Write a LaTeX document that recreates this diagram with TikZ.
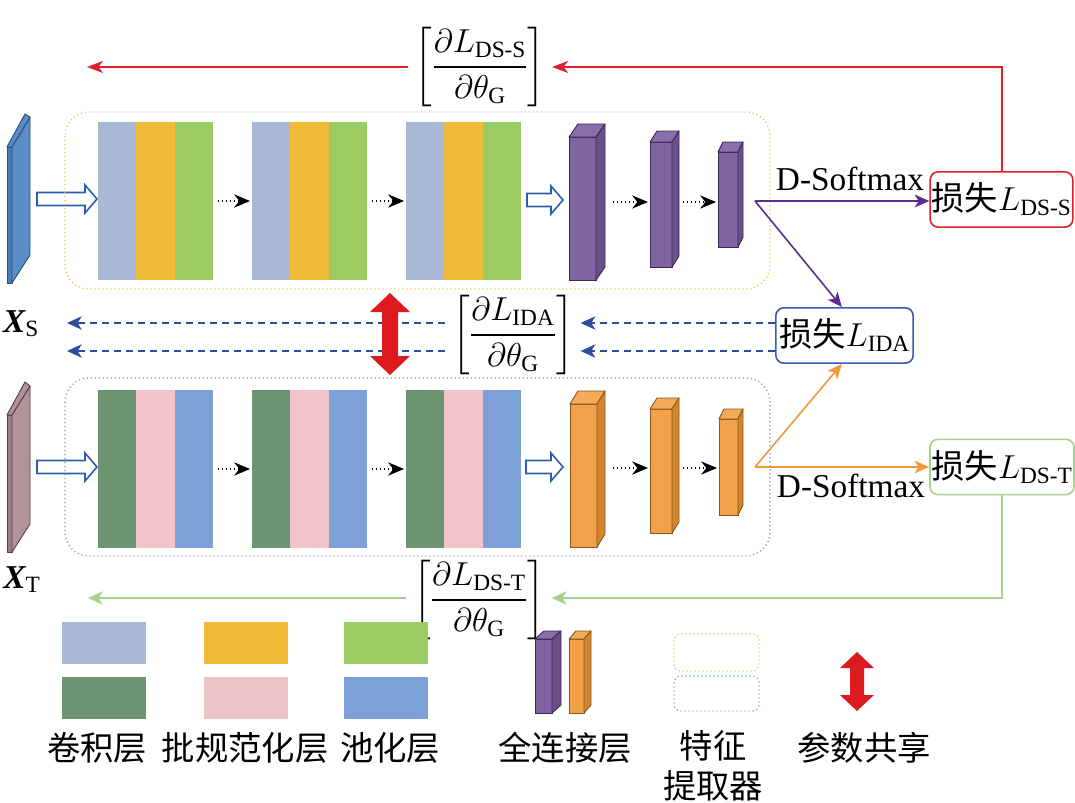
\documentclass[tikz,border=0pt]{standalone}
\usepackage{amsmath}
\usepackage{fontspec}
\setmainfont{Liberation Serif}
\newfontfamily\cjk{Noto Sans CJK SC}
\usetikzlibrary{arrows.meta}

\definecolor{redc}{HTML}{E0202A}
\definecolor{purc}{HTML}{5C2D91}
\definecolor{orac}{HTML}{EE9A3C}
\definecolor{dblue}{HTML}{2F4D9E}
\definecolor{grnc}{HTML}{A6D28A}
\definecolor{boxblue}{HTML}{3D5BA9}
\definecolor{dotora}{HTML}{F3B847}
\definecolor{dotblu}{HTML}{6C9BD2}
\definecolor{hollowc}{HTML}{2F5DAE}
\definecolor{cLB}{HTML}{A7B9D5}
\definecolor{cYE}{HTML}{F1BA39}
\definecolor{cGR}{HTML}{9BCB62}
\definecolor{cDG}{HTML}{6A9570}
\definecolor{cPK}{HTML}{F1C3CB}
\definecolor{cPKL}{HTML}{EBC4C6}
\definecolor{cBL}{HTML}{7DA0D6}
\definecolor{pu}{HTML}{8064A2}
\definecolor{putop}{HTML}{8A6FAB}
\definecolor{puside}{HTML}{6B5088}
\definecolor{puline}{HTML}{3B2A55}
\definecolor{or}{HTML}{F2A04A}
\definecolor{ortop}{HTML}{F4AA58}
\definecolor{orside}{HTML}{D4862F}
\definecolor{orline}{HTML}{8A5A1D}
\definecolor{slS}{HTML}{5A8CC5}
\definecolor{slSd}{HTML}{4A7BB5}
\definecolor{slSl}{HTML}{2B4F7A}
\definecolor{slT}{HTML}{B3929A}
\definecolor{slTd}{HTML}{9C7B83}
\definecolor{slTl}{HTML}{5A4048}
\definecolor{shred}{HTML}{DD1A1F}

\newcommand\fccube[8]{%
  \filldraw[fill=#8, draw=#8line, line width=0.7pt] (#2,#3) rectangle (#4,#5);
  \filldraw[fill=#8top, draw=#8line, line width=0.7pt, line join=round] (#2,#3) -- (#2+#6,#3-#7) -- (#4+#6,#3-#7) -- (#4,#3) -- cycle;
  \filldraw[fill=#8side, draw=#8line, line width=0.7pt, line join=round] (#4,#3) -- (#4+#6,#3-#7) -- (#4+#6,#5-#7) -- (#4,#5) -- cycle;
  \coordinate (#1-w) at (#2,{(#3+#5)/2});
  \coordinate (#1-e) at (#4+#6,{(#3+#5)/2});
}
\newcommand\hollowarr[4]{%
  \draw[hollowc, line width=1.2pt, fill=white, line join=miter] (#2,#4-6.5) -- (#3-12,#4-6.5) -- (#3-12,#4-14) -- (#3,#4) -- (#3-12,#4+14) -- (#3-12,#4+6.5) -- (#2,#4+6.5) -- cycle;
  \coordinate (#1) at (#3,#4);
}
\newcommand\convblock[6]{%
  \node[stripe, fill=#4] (#1a) at (#2,#3) {};
  \node[stripe, fill=#5, anchor=west] (#1b) at (#1a.east) {};
  \node[stripe, fill=#6, anchor=west] (#1c) at (#1b.east) {};
}
\newcommand\pfrac[1]{$\displaystyle\left[\frac{\partial L_{\text{#1}}}{\partial\theta_{\text{G}}}\right]$}

\tikzset{
  stripe/.style={rectangle, inner sep=0pt, outer sep=0pt, minimum width=28.75pt, minimum height=118.5pt, draw=none},
  dotarr/.style={black, line width=1pt, dotted, -{Stealth[length=12pt,width=10pt,inset=4pt]}, shorten <=3.5pt, shorten >=1.5pt},
  lossbox/.style={rectangle, rounded corners=6pt, line width=1.2pt, inner sep=0pt, minimum height=41.5pt},
  fracnode/.style={inner sep=5pt},
  redarr/.style={redc, line width=1.5pt, -{Stealth[length=12pt,width=9pt,inset=3.5pt]}},
  purarr/.style={purc, line width=1.2pt, -{Stealth[length=11pt,width=9.5pt,inset=3pt]}},
  oraarr/.style={orac, line width=1.2pt, -{Stealth[length=11pt,width=9.5pt,inset=3pt]}},
  bluarr/.style={dblue, line width=1.2pt, dash pattern=on 5.5pt off 3.5pt, -{Stealth[length=11pt,width=10pt,inset=3pt]}},
  grnarr/.style={grnc, line width=1.2pt, -{Stealth[length=11pt,width=10pt,inset=3pt]}},
  legsq/.style={rectangle, inner sep=0pt, minimum width=63pt, minimum height=31.5pt, draw=none},
  cjkl/.style={font=\cjk\fontsize{25}{30}\selectfont, inner sep=0pt, align=center},
  dotbox/.style={line width=1pt, dash pattern=on 0.8pt off 2.2pt, rounded corners=18pt},
}

\begin{document}
\begin{tikzpicture}[x=0.75pt, y=-0.75pt, font=\fontsize{25}{30}\selectfont]
\useasboundingbox (0,0) rectangle (1075,803);
\fill[white] (0,0) rectangle (1075,803);

% ---------- input slabs ----------
\filldraw[fill=slSd, draw=slSl, line width=0.7pt, line join=round] (7,147) rectangle (12,283);
\filldraw[fill=slS, draw=slSl, line width=0.7pt, line join=round] (12,147) -- (30,117) -- (30,255) -- (12,283) -- cycle;
\filldraw[fill=slS, draw=slSl, line width=0.7pt, line join=round] (7,147) -- (25,114) -- (30,117) -- (12,147) -- cycle;
\filldraw[fill=slTd, draw=slTl, line width=0.7pt, line join=round] (7,415) rectangle (12,552);
\filldraw[fill=slT, draw=slTl, line width=0.7pt, line join=round] (12,415) -- (30,386) -- (30,524) -- (12,552) -- cycle;
\filldraw[fill=slT, draw=slTl, line width=0.7pt, line join=round] (7,415) -- (25,382) -- (30,386) -- (12,415) -- cycle;
\node[anchor=base, inner sep=0pt] (xs) at (21,332) {$\text{\bfseries\itshape X}_{\text{S}}$};
\node[anchor=base, inner sep=0pt] (xt) at (22,588) {$\text{\bfseries\itshape X}_{\text{T}}$};

% ---------- hollow arrows ----------
\hollowarr{hs1}{37}{97}{199}
\hollowarr{hs2}{527}{563}{200}
\hollowarr{ht1}{37}{97}{467}
\hollowarr{ht2}{526}{563}{467}

% ---------- conv blocks ----------
\convblock{s1}{117.2}{201}{cLB}{cYE}{cGR}
\convblock{s2}{271.2}{201}{cLB}{cYE}{cGR}
\convblock{s3}{425.2}{201}{cLB}{cYE}{cGR}
\convblock{t1}{117.2}{469}{cDG}{cPK}{cBL}
\convblock{t2}{271.2}{469}{cDG}{cPK}{cBL}
\convblock{t3}{425.2}{469}{cDG}{cPK}{cBL}
\draw[dotarr] (s1c.east) -- (s2a.west);
\draw[dotarr] (s2c.east) -- (s3a.west);
\draw[dotarr] (t1c.east) -- (t2a.west);
\draw[dotarr] (t2c.east) -- (t3a.west);

% ---------- FC cubes ----------
\fccube{sc1}{569}{137}{596}{280}{9}{13}{pu}
\fccube{sc2}{650}{142}{672}{267}{7}{11}{pu}
\fccube{sc3}{718}{152}{738}{247}{5}{10}{pu}
\fccube{tc1}{570}{404}{597}{547}{8}{13}{or}
\fccube{tc2}{650}{409}{672}{533}{7}{11}{or}
\fccube{tc3}{719}{419}{738}{515}{5}{10}{or}
\coordinate (rowS) at (0,202);
\coordinate (rowT) at (0,468);
\draw[dotarr, shorten <=6pt] (sc1-e |- rowS) -- (sc2-w |- rowS);
\draw[dotarr, shorten <=3pt] (sc2-e |- rowS) -- (sc3-w |- rowS);
\draw[dotarr, shorten <=6pt] (tc1-e |- rowT) -- (tc2-w |- rowT);
\draw[dotarr, shorten <=3pt] (tc2-e |- rowT) -- (tc3-w |- rowT);

% ---------- feature extractor boxes ----------
\draw[dotbox, dotora] (65,112) rectangle (770,289);
\draw[dotbox, dotblu] (65,378) rectangle (770,556);

% ---------- losses ----------
\node[lossbox, draw=redc, minimum width=107pt] (lossS) at (1001.5,199.5) {{\cjk 损失}$L_{\text{DS-S}}$};
\node[lossbox, draw=boxblue, minimum width=103pt] (lossI) at (844.5,335.5) {{\cjk 损失}$L_{\text{IDA}}$};
\node[lossbox, draw=grnc, minimum width=108pt] (lossT) at (1002,467) {{\cjk 损失}$L_{\text{DS-T}}$};

\coordinate (sOut) at (755,201);
\coordinate (tOut) at (755,467);
\node[anchor=base, inner sep=0pt] (dsS) at (850,190) {D-Softmax};
\node[anchor=base, inner sep=0pt] (dsT) at (851,497) {D-Softmax};
\draw[purarr] (sOut) -- (lossS.west |- sOut);
\draw[purarr] (sOut) -- ([xshift=-2pt]lossI.north);
\draw[oraarr] (tOut) -- (lossT.west |- tOut);
\draw[oraarr] (tOut) -- ([xshift=-2pt]lossI.south);

% ---------- gradient fractions ----------
\node[fracnode] (fS) at (480,67) {\pfrac{DS-S}};
\node[fracnode] (fI) at (513,335) {\pfrac{IDA}};
\node[fracnode] (fT) at (479,600) {\pfrac{DS-T}};

\coordinate (rEnd) at (87,67);
\draw[redarr] (lossS.north) |- (fS.east);
\draw[redarr] (fS.west) -- (rEnd);

\coordinate (dA) at (67,323);
\coordinate (dB) at (67,351);
\draw[bluarr] (lossI.west |- dA) -- (fI.east |- dA);
\draw[bluarr] (lossI.west |- dB) -- (fI.east |- dB);
\draw[bluarr] (fI.west |- dA) -- (dA);
\draw[bluarr] (fI.west |- dB) -- (dB);

\coordinate (gEnd) at (88,598);
\draw[grnarr] (lossT.south) |- (fT.east |- gEnd);
\draw[grnarr] (fT.west |- gEnd) -- (gEnd);

% ---------- parameter sharing arrow ----------
\fill[shred] (390,293) -- (410,312) -- (398,312) -- (398,356) -- (410,356) -- (390,375) -- (370,356) -- (382,356) -- (382,312) -- (370,312) -- cycle;

% ---------- legend ----------
\node[legsq, fill=cLB] (lg1) at (104,643) {};
\node[legsq, fill=cYE] (lg2) at (245.5,643) {};
\node[legsq, fill=cGR] (lg3) at (386,643) {};
\node[legsq, fill=cDG] (lg4) at (104,698) {};
\node[legsq, fill=cPKL] (lg5) at (245.5,698) {};
\node[legsq, fill=cBL] (lg6) at (386,698) {};
\fccube{lc1}{535}{639}{552}{713}{9}{8}{pu}
\fccube{lc2}{569}{639}{584}{713}{7}{8}{or}
\draw[line width=1pt, dash pattern=on 0.8pt off 2.2pt, rounded corners=5pt, dotora] (674,634) rectangle (759,671);
\draw[line width=1pt, dash pattern=on 0.8pt off 2.2pt, rounded corners=5pt, dotblu] (674,676) rectangle (759,711);
\fill[shred] (857,652) -- (874,668) -- (864,668) -- (864,695) -- (874,695) -- (857,711) -- (840,695) -- (850,695) -- (850,668) -- (840,668) -- cycle;

\node[cjkl] (l1) at (97,748) {卷积层};
\node[cjkl] (l2) at (245,748) {批规范化层};
\node[cjkl] (l3) at (390,748) {池化层};
\node[cjkl] (l4) at (565,748) {全连接层};
\node[cjkl] (l5) at (713,766) {特征\\提取器};
\node[cjkl] (l6) at (864,748) {参数共享};
\end{tikzpicture}
\end{document}
